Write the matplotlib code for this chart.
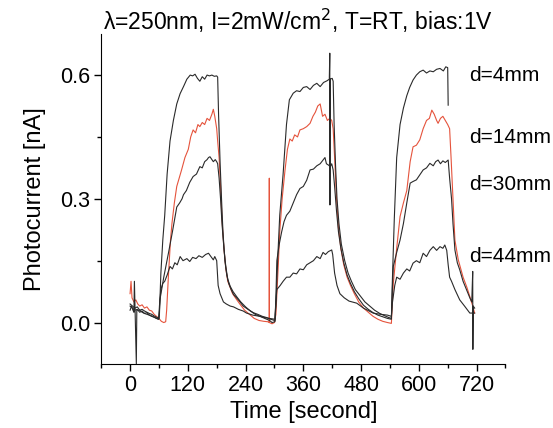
import matplotlib

matplotlib.use("Agg")
import matplotlib.pyplot as plt
from matplotlib.ticker import MultipleLocator

plt.rcParams["font.family"] = ["Liberation Sans", "DejaVu Sans"]

# d = 4 mm
t_4mm = [0, 5, 10, 15, 20, 25, 30, 35, 40, 45, 50, 55, 60,
         61, 64, 68, 72, 77, 83, 90, 97, 104, 111, 118, 125,
         130, 135, 140, 145, 150, 155, 160, 165, 170, 175, 180, 182,
         184, 187, 190, 193, 197, 201, 205, 210, 215, 225, 235, 245, 256, 265, 275, 284, 292, 298, 301,
         303, 307, 311, 318, 325, 331, 339, 346, 353, 360, 367, 374, 381, 388, 395, 402, 409, 414,
         415, 415.3, 415.6, 420, 422,
         424, 427, 430, 434, 439, 446, 453, 460, 468, 478, 488, 498, 508, 519, 530, 538, 543,
         545, 549, 554, 561, 568, 575, 581, 588, 595, 602, 609, 616, 623, 630, 637, 644, 651, 656, 660, 661]
i_4mm = [0.045, 0.040, 0.035, 0.038, 0.030, 0.032, 0.028, 0.025, 0.022, 0.020, 0.016, 0.013, 0.010,
         0.020, 0.120, 0.200, 0.260, 0.360, 0.440, 0.490, 0.530, 0.555, 0.572, 0.590, 0.600,
         0.598, 0.602, 0.592, 0.585, 0.596, 0.590, 0.600, 0.598, 0.600, 0.597, 0.598, 0.595,
         0.500, 0.390, 0.300, 0.220, 0.150, 0.115, 0.095, 0.080, 0.068, 0.055, 0.040, 0.032, 0.024, 0.020, 0.015, 0.012, 0.008, 0.006, 0.004,
         0.040, 0.160, 0.260, 0.360, 0.480, 0.540, 0.556, 0.562, 0.560, 0.570, 0.572, 0.565, 0.575, 0.580, 0.572, 0.582, 0.586, 0.590,
         0.653, 0.285, 0.590, 0.592, 0.585,
         0.480, 0.380, 0.300, 0.240, 0.190, 0.150, 0.120, 0.100, 0.080, 0.065, 0.050, 0.040, 0.030, 0.022, 0.016, 0.012, 0.010,
         0.100, 0.250, 0.400, 0.480, 0.520, 0.550, 0.570, 0.588, 0.600, 0.608, 0.612, 0.605, 0.610, 0.608, 0.614, 0.616, 0.610, 0.620, 0.618, 0.527]

# d = 14 mm (red)
t_14mm = [0, 2, 4, 8, 12, 16, 20, 25, 30, 35, 40, 45, 50, 55, 60, 65, 70, 74,
          76, 80, 84, 87, 92, 97, 102, 107, 114, 121, 126, 131, 136, 141, 145, 150, 155, 160, 165, 170, 173, 176, 180, 182,
          185, 188, 191, 195, 199, 203, 208, 213, 220, 228, 238, 248, 258, 268, 278, 286,
          289, 289.3, 289.6, 295, 300,
          303, 308, 311, 316, 322, 327, 332, 337, 342, 348, 353, 360, 367, 374, 380, 385, 390, 395, 400, 405, 410, 415, 419, 422,
          425, 429, 433, 438, 444, 451, 458, 466, 475, 485, 495, 505, 515, 525, 535, 543,
          545, 547, 554, 561, 568, 575, 582, 588, 595, 602, 609, 616, 622, 627, 632, 637, 640, 645, 650, 655, 660, 664,
          667, 671, 675, 682, 692, 700, 706, 712, 716]
i_14mm = [0.070, 0.100, 0.060, 0.050, 0.055, 0.045, 0.040, 0.043, 0.035, 0.038, 0.030, 0.028, 0.020, 0.015, 0.010, 0.003, 0.000, 0.002,
          0.030, 0.120, 0.200, 0.240, 0.290, 0.330, 0.350, 0.370, 0.400, 0.420, 0.450, 0.467, 0.460, 0.480, 0.475, 0.485, 0.480, 0.495, 0.490, 0.505, 0.517, 0.500, 0.470, 0.440,
          0.400, 0.330, 0.250, 0.180, 0.130, 0.100, 0.085, 0.070, 0.058, 0.045, 0.030, 0.020, 0.010, 0.005, 0.003, 0.002,
          0.000, 0.350, 0.000, -0.003, 0.000,
          0.020, 0.140, 0.220, 0.300, 0.370, 0.420, 0.445, 0.440, 0.455, 0.450, 0.467, 0.470, 0.475, 0.483, 0.500, 0.510, 0.525, 0.530, 0.500, 0.505, 0.490, 0.495, 0.490, 0.470,
          0.400, 0.300, 0.230, 0.180, 0.140, 0.110, 0.090, 0.070, 0.050, 0.035, 0.025, 0.015, 0.008, 0.003, 0.000, -0.002,
          0.050, 0.095, 0.180, 0.257, 0.290, 0.320, 0.390, 0.426, 0.430, 0.443, 0.470, 0.490, 0.495, 0.515, 0.505, 0.490, 0.483, 0.495, 0.500, 0.490, 0.480, 0.470,
          0.400, 0.300, 0.200, 0.152, 0.110, 0.085, 0.063, 0.040, 0.023]

# d = 30 mm
t_30mm = [0, 3, 6, 8, 9, 13, 14, 20, 25, 30, 35, 40, 45, 50, 55, 59,
          61, 62, 70, 80, 88, 97, 103, 108, 111, 117, 124, 131, 138, 145, 150, 155, 160, 163, 166, 170, 173, 177, 180, 182,
          185, 188, 191, 195, 199, 203, 208, 214, 222, 230, 240, 250, 260, 270, 280, 290, 295, 301,
          303, 305, 310, 315, 320, 325, 332, 339, 346, 353, 360, 367, 374, 381, 388, 395, 401, 405, 408, 412, 416, 419, 422,
          425, 429, 433, 438, 444, 451, 458, 466, 475, 485, 495, 505, 515, 525, 535, 543,
          545, 547, 554, 561, 568, 575, 582, 588, 595, 602, 609, 616, 623, 630, 635, 640, 645, 650, 655, 661,
          664, 668, 671, 675, 680, 685, 692, 699, 706, 710, 712, 712.3, 713, 716]
i_30mm = [0.030, 0.040, 0.030, 0.025, 0.100, -0.100, 0.030, 0.030, 0.025, 0.022, 0.024, 0.018, 0.016, 0.013, 0.010, 0.008,
          0.030, 0.055, 0.110, 0.170, 0.220, 0.280, 0.290, 0.300, 0.310, 0.320, 0.340, 0.354, 0.360, 0.378, 0.375, 0.390, 0.395, 0.400, 0.402, 0.395, 0.390, 0.395, 0.390, 0.385,
          0.350, 0.300, 0.240, 0.180, 0.135, 0.105, 0.088, 0.075, 0.062, 0.050, 0.038, 0.028, 0.020, 0.015, 0.010, 0.005, 0.000, 0.002,
          0.060, 0.150, 0.190, 0.220, 0.245, 0.260, 0.270, 0.290, 0.310, 0.325, 0.330, 0.345, 0.370, 0.372, 0.380, 0.385, 0.394, 0.400, 0.385, 0.382, 0.378, 0.385, 0.370,
          0.330, 0.270, 0.220, 0.180, 0.145, 0.115, 0.095, 0.075, 0.058, 0.042, 0.032, 0.024, 0.018, 0.014, 0.010, 0.008,
          0.080, 0.136, 0.170, 0.200, 0.240, 0.290, 0.338, 0.342, 0.346, 0.358, 0.370, 0.375, 0.386, 0.380, 0.390, 0.394, 0.385, 0.392, 0.388, 0.394,
          0.350, 0.300, 0.240, 0.176, 0.145, 0.128, 0.100, 0.080, 0.060, 0.050, 0.124, -0.065, 0.040, 0.035]

# d = 44 mm
t_44mm = [0, 5, 10, 15, 20, 25, 30, 35, 40, 45, 50, 55, 60,
          61, 64, 68, 72, 77, 83, 88, 93, 98, 104, 110, 118, 124, 130, 137, 143, 150, 157, 163, 168, 173, 176, 180,
          183, 187, 194, 200, 208, 215, 225, 235, 242, 255, 270, 280, 290, 301,
          303, 305, 312, 318, 325, 332, 339, 346, 353, 360, 367, 374, 381, 388, 395, 401, 406, 412, 419, 421,
          425, 430, 436, 445, 455, 471, 485, 505, 520, 535, 543,
          545, 550, 554, 561, 568, 575, 581, 588, 595, 602, 609, 616, 623, 630, 637, 644, 650, 654, 658, 661, 664,
          668, 675, 685, 695, 706, 716]
i_44mm = [0.040, 0.035, 0.030, 0.032, 0.025, 0.028, 0.022, 0.020, 0.018, 0.015, 0.013, 0.010, 0.008,
          0.040, 0.080, 0.095, 0.100, 0.115, 0.136, 0.130, 0.145, 0.140, 0.160, 0.150, 0.155, 0.148, 0.158, 0.155, 0.162, 0.158, 0.165, 0.168, 0.160, 0.152, 0.160, 0.150,
          0.090, 0.070, 0.050, 0.045, 0.040, 0.038, 0.032, 0.028, 0.023, 0.018, 0.015, 0.012, 0.010, 0.008,
          0.050, 0.080, 0.090, 0.100, 0.110, 0.110, 0.120, 0.118, 0.130, 0.128, 0.140, 0.145, 0.150, 0.160, 0.155, 0.170, 0.165, 0.172, 0.176, 0.165,
          0.120, 0.090, 0.070, 0.060, 0.052, 0.047, 0.035, 0.023, 0.020, 0.018, 0.015,
          0.047, 0.090, 0.110, 0.105, 0.120, 0.130, 0.125, 0.144, 0.150, 0.145, 0.168, 0.160, 0.175, 0.184, 0.175, 0.184, 0.180, 0.188, 0.175, 0.140, 0.110,
          0.100, 0.080, 0.055, 0.040, 0.023, 0.023]

labels = ["d=4mm", "d=14mm", "d=30mm", "d=44mm"]
label_y = [0.600, 0.448, 0.334, 0.160]

fig = plt.figure(figsize=(5.53, 4.28), dpi=100)
ax = fig.add_axes([0.183, 0.150, 0.731, 0.771])

ax.plot(t_14mm, i_14mm, color="#e5533c", linewidth=0.8)
ax.plot(t_4mm, i_4mm, color="#2a2a2a", linewidth=0.8)
ax.plot(t_30mm, i_30mm, color="#2a2a2a", linewidth=0.8)
ax.plot(t_44mm, i_44mm, color="#2a2a2a", linewidth=0.8)

for text, y in zip(labels, label_y):
    ax.text(705, y, text, fontsize=15, va="center", ha="left")

ax.set_xlim(-60, 780)
ax.set_ylim(-0.1, 0.7)
ax.xaxis.set_minor_locator(MultipleLocator(60))
ax.yaxis.set_minor_locator(MultipleLocator(0.15))
ax.set_yticks([0.0, 0.3, 0.6])
ax.set_yticklabels(["0.0", "0.3", "0.6"])
ax.set_xticks([0, 120, 240, 360, 480, 600, 720])
ax.spines["top"].set_visible(False)
ax.spines["right"].set_visible(False)
ax.tick_params(which="major", direction="out", length=5, width=1, labelsize=15.5, pad=3)
ax.tick_params(which="minor", direction="out", length=3, width=1)
ax.set_xlabel("Time [second]", fontsize=17, labelpad=4)
ax.set_ylabel("Photocurrent [nA]", fontsize=17, labelpad=10)

fig.text(0.186, 0.93, r"λ=250nm, I=2mW/cm$^2$, T=RT, bias:1V", fontsize=16.5, va="baseline", ha="left")

fig.savefig("out.png", dpi=100)
